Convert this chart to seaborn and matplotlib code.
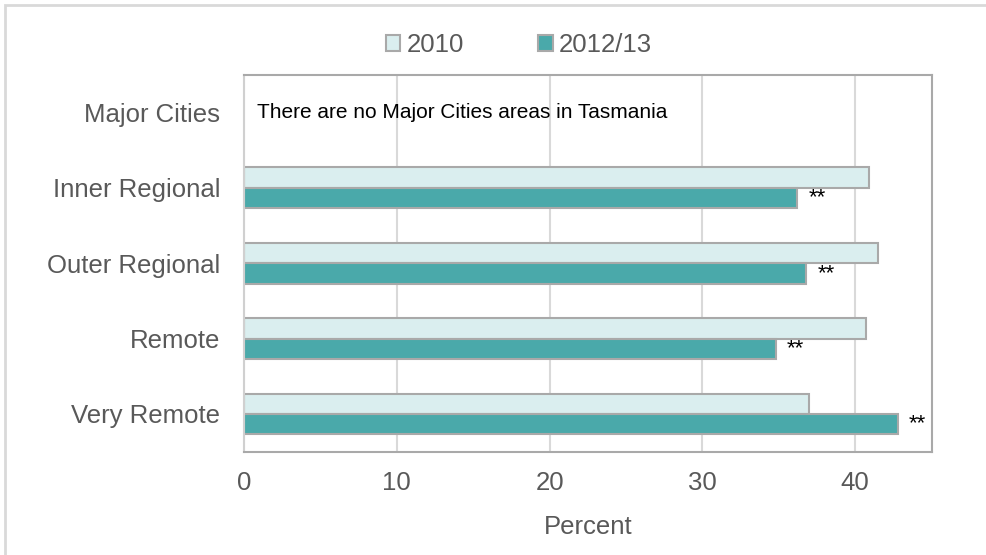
import matplotlib
matplotlib.use("Agg")
import matplotlib.pyplot as plt
from matplotlib.patches import Patch, Rectangle
import seaborn as sns
import pandas as pd
import numpy as np

# values
regions = ["Major Cities", "Inner Regional", "Outer Regional", "Remote", "Very Remote"]
pct_2010 = [np.nan, 40.9, 41.5, 40.7, 37.0]
pct_2012 = [np.nan, 36.2, 36.8, 34.8, 42.8]
sig_2012 = ["", "**", "**", "**", "**"]
periods = ["2010", "2012/13"]
colors = {"2010": "#daeeef", "2012/13": "#4aa9aa"}
note = "There are no Major Cities areas in Tasmania"

df = pd.DataFrame({
    "Region": regions * 2,
    "Period": [periods[0]] * len(regions) + [periods[1]] * len(regions),
    "Percent": pct_2010 + pct_2012,
})

sns.set_theme(style="white")
plt.rcParams["font.family"] = ["Liberation Sans", "DejaVu Sans"]

text_grey = "#595959"
edge_grey = "#a9a9a9"
fs = 18.5

fig = plt.figure(figsize=(9.87, 5.55), dpi=100)
ax = fig.add_axes([244 / 987, 1 - 451.7 / 555, (931.6 - 244) / 987, (451.7 - 74.6) / 555])

sns.barplot(data=df, y="Region", x="Percent", hue="Period", order=regions,
            hue_order=periods, palette=colors, saturation=1, width=0.54, gap=0,
            edgecolor=edge_grey, linewidth=1.5, errorbar=None, orient="h",
            legend=False, ax=ax)

# significance markers on the 2012/13 bars
labels = [s for s, v in zip(sig_2012, pct_2012) if not np.isnan(v)]
ax.bar_label(ax.containers[1], labels=labels, padding=8, fontsize=16, color="black")

ax.text(0.85, 0, note, va="center", ha="left", fontsize=15, color="black")

ax.set_xlim(0, 45)
ax.set_xticks([0, 10, 20, 30, 40])
ax.set_ylim(len(regions) - 0.5, -0.5)
ax.grid(axis="x", color="#d9d9d9", linewidth=1.5)
ax.set_axisbelow(True)
for side, sp in ax.spines.items():
    sp.set_visible(True)
    sp.set_color(edge_grey)
    sp.set_linewidth(1.5)
ax.spines["left"].set_color("#d0d0d0")

ax.tick_params(axis="y", length=0, pad=17, labelsize=fs, labelcolor=text_grey)
ax.tick_params(axis="x", length=0, pad=14, labelsize=fs, labelcolor=text_grey)
ax.set_ylabel("")
ax.set_xlabel("Percent", fontsize=fs, color=text_grey, labelpad=14)

handles = [Patch(facecolor=colors[p], edgecolor=edge_grey, linewidth=1.5) for p in periods]
fig.legend(handles, periods, loc="center", bbox_to_anchor=(519 / 987, 1 - 45 / 555),
           ncol=2, frameon=False, fontsize=fs, handlelength=0.55, handleheight=0.55,
           handletextpad=0.25, columnspacing=2.9, labelcolor=text_grey)

# light frame round the chart area
fig.add_artist(Rectangle((5 / 987, -0.1), 1.2, 1.1 - 5 / 555, transform=fig.transFigure,
                         fill=False, edgecolor="#d9d9d9", linewidth=2, clip_on=False))

fig.savefig("out.png", dpi=100)
